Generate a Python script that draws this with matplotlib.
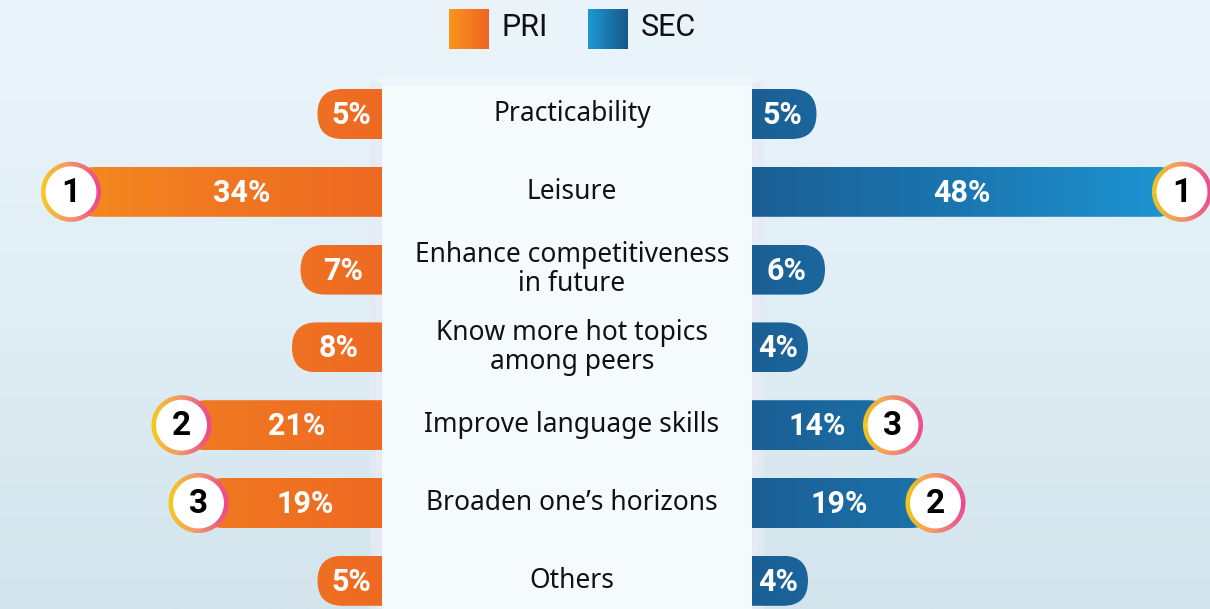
import numpy as np
import matplotlib.pyplot as plt
from matplotlib.patches import FancyBboxPatch, Rectangle, Circle, Wedge
from matplotlib.colors import LinearSegmentedColormap

# data read from the infographic
categories = [
    "Practicability",
    "Leisure",
    "Enhance competitiveness\nin future",
    "Know more hot topics\namong peers",
    "Improve language skills",
    "Broaden one\u2019s horizons",
    "Others",
]
pri = [5, 34, 7, 8, 21, 19, 5]
sec = [5, 48, 6, 4, 14, 19, 4]
series_names = ["PRI", "SEC"]

# layout (pixels, the axes is set up 1:1 with the output image)
W, H = 1210, 609
PANEL_L, PANEL_R = 382, 752
PANEL_TOP = 86
ROW0, ROW_STEP = 114, 77.8
BAR_H = 50
PAD, SCALE = 22, 8.5      # bar length = PAD + SCALE * value
R_BADGE = 30

NUM_FONT = ["Roboto", "DejaVu Sans"]
CAT_FONT = ["Noto Sans", "DejaVu Sans"]

orange_cmap = LinearSegmentedColormap.from_list("o", ["#f7961c", "#f07a21", "#ee6a23"])
blue_cmap = LinearSegmentedColormap.from_list("b", ["#1a5f94", "#1b79b3", "#1e9bd7"])
ring_cmap = LinearSegmentedColormap.from_list("r", ["#f5c71a", "#f3906a", "#ec4a8e"])
bg_cmap = LinearSegmentedColormap.from_list("bg", ["#ebf4fb", "#e0eef5", "#d3e4ec"])


def top3(values):
    order = np.argsort(values)[::-1][:3]
    ranks = [None] * len(values)
    for r, idx in enumerate(order):
        ranks[idx] = r + 1
    return ranks


pri_rank = top3(pri)
sec_rank = top3(sec)

fig = plt.figure(figsize=(W / 100, H / 100), dpi=100)
ax = fig.add_axes([0, 0, 1, 1])
ax.axis("off")

grad = np.linspace(0, 1, 256)

# background
ax.imshow(grad.reshape(-1, 1), extent=(0, W, H, 0), cmap=bg_cmap,
          aspect="auto", zorder=0)

# soft glow + side strips of the centre panel
ax.add_patch(FancyBboxPatch((PANEL_L - 6, PANEL_TOP - 9), PANEL_R - PANEL_L + 12, H,
                            boxstyle="round,pad=0,rounding_size=10",
                            fc="white", ec="none", alpha=0.35, zorder=1))
for x0 in (PANEL_L - 12, PANEL_R):
    ax.add_patch(Rectangle((x0, PANEL_TOP - 4), 12, H, fc="#e6eaf5",
                           ec="none", alpha=0.8, zorder=1))


def draw_bar(x_start, x_end, yc, cmap, ext):
    x0, x1 = min(x_start, x_end), max(x_start, x_end)
    patch = FancyBboxPatch((x0, yc - BAR_H / 2), x1 - x0, BAR_H,
                           boxstyle=f"round,pad=0,rounding_size={BAR_H / 2}",
                           fc="none", ec="none", zorder=2)
    ax.add_patch(patch)
    im = ax.imshow(grad.reshape(1, -1), extent=(ext[0], ext[1], yc + BAR_H / 2, yc - BAR_H / 2),
                   cmap=cmap, aspect="auto", zorder=2)
    im.set_clip_path(patch)


def draw_badge(cx, cy, rank):
    n = 90
    for k in range(n):
        a0 = 360 * k / n
        a1 = 360 * (k + 1) / n + 0.6
        t = (np.cos(np.radians((a0 + a1) / 2)) + 1) / 2
        ax.add_patch(Wedge((cx, cy), R_BADGE, a0, a1, width=4.5,
                           color=ring_cmap(t), lw=0, zorder=6))
    ax.add_patch(Circle((cx, cy), R_BADGE - 4, fc="white", ec="none", zorder=5))
    ax.text(cx, cy + 1, str(rank), ha="center", va="center", fontsize=24,
            fontweight="bold", family=NUM_FONT, color="black", zorder=7)


for i, cat in enumerate(categories):
    yc = ROW0 + i * ROW_STEP

    # PRI (left)
    length = PAD + SCALE * pri[i]
    x_end = PANEL_L - length
    draw_bar(PANEL_L + BAR_H, x_end, yc, orange_cmap, (0, PANEL_L))
    if pri_rank[i]:
        draw_badge(x_end, yc, pri_rank[i])
        lx = (PANEL_L + x_end + R_BADGE) / 2
    else:
        lx = (PANEL_L + x_end) / 2 + 2
    ax.text(lx, yc + 1, f"{pri[i]}%", ha="center", va="center", fontsize=22,
            fontweight="bold", family=NUM_FONT, color="white", zorder=7)

    # SEC (right)
    length = PAD + SCALE * sec[i]
    x_end = PANEL_R + length
    draw_bar(PANEL_R - BAR_H, x_end, yc, blue_cmap, (PANEL_R, W))
    if sec_rank[i]:
        draw_badge(x_end, yc, sec_rank[i])
        lx = (PANEL_R + x_end - R_BADGE) / 2 + 10
    else:
        lx = (PANEL_R + x_end) / 2 - 2
    ax.text(lx, yc + 1, f"{sec[i]}%", ha="center", va="center", fontsize=22,
            fontweight="bold", family=NUM_FONT, color="white", zorder=7)

# centre panel with category names
ax.add_patch(Rectangle((PANEL_L, PANEL_TOP), PANEL_R - PANEL_L, H - PANEL_TOP,
                       fc="#f5fafd", ec="none", zorder=3))
for i, cat in enumerate(categories):
    yc = ROW0 + i * ROW_STEP
    ax.text((PANEL_L + PANEL_R) / 2 + 5, yc, cat, ha="center", va="center",
            fontsize=19, family=CAT_FONT, color="#111111", zorder=8,
            linespacing=1.05)

# legend
leg_x = [449, 588]
leg_cmaps = [LinearSegmentedColormap.from_list("lo", ["#f7961c", "#ef6422"]),
             LinearSegmentedColormap.from_list("lb", ["#1e98d3", "#17588b"])]
for x0, name, cm in zip(leg_x, series_names, leg_cmaps):
    ax.imshow(grad.reshape(1, -1), extent=(x0, x0 + 40, 49, 9), cmap=cm,
              aspect="auto", zorder=4)
    ax.text(x0 + 53, 28, name, ha="left", va="center", fontsize=22,
            family=NUM_FONT, color="#111111", zorder=8)

ax.set_xlim(0, W)
ax.set_ylim(H, 0)

fig.savefig("out.png", dpi=100)
